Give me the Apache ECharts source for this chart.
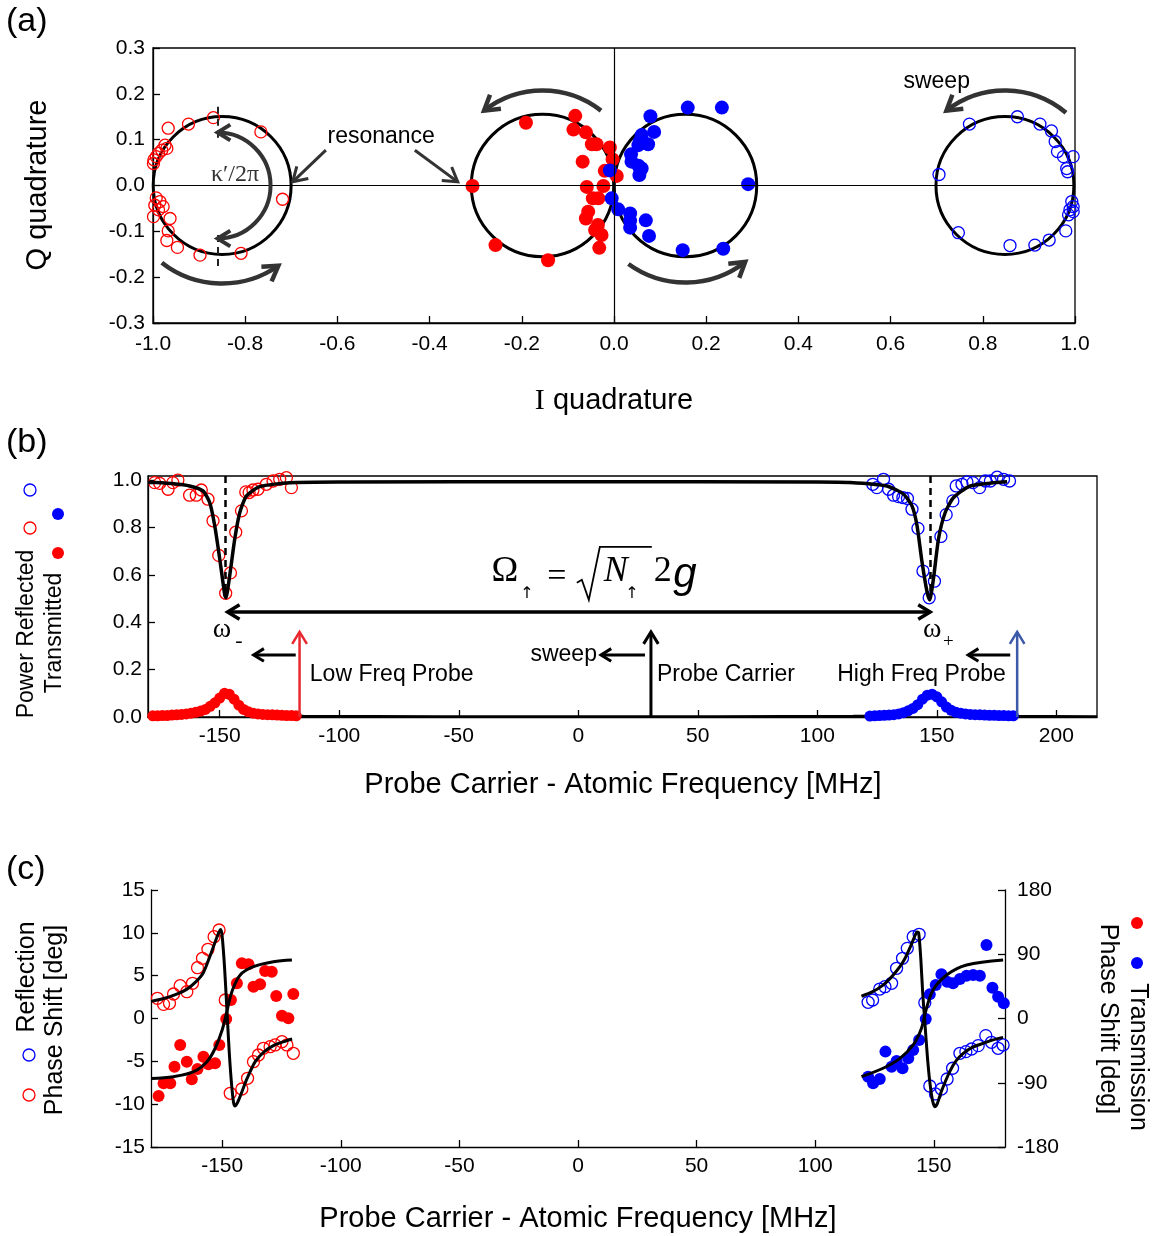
<!DOCTYPE html>
<html><head><meta charset="utf-8">
<script src="https://cdn.jsdelivr.net/npm/echarts@6/dist/echarts.min.js"></script>
<style>html,body{margin:0;padding:0;background:#fff}#c{width:1154px;height:1236px}</style>
</head><body><div id="c"></div>
<script>
// ================= DATA =================
// Panel (a): IQ plane
const circlesA = [[-0.85,0,0.15],[-0.155,0,0.155],[0.155,0,0.155],[0.848,0,0.15]]; // [centerI, centerQ, radius]
const redOpenA = [[-0.869,0.148],[-0.923,0.134],[-0.967,0.125],[-0.766,0.117],[-0.974,0.088],[-0.970,0.081],[-0.981,0.077],[-0.988,0.070],[-0.993,0.063],[-0.998,0.056],[-0.999,0.048],[-0.719,-0.030],[-0.993,-0.027],[-0.985,-0.035],[-0.996,-0.043],[-0.978,-0.046],[-0.988,-0.053],[-0.999,-0.068],[-0.963,-0.072],[-0.967,-0.099],[-0.970,-0.120],[-0.947,-0.135],[-0.898,-0.152],[-0.809,-0.148]];
const redFilledA = [[-0.191,0.137],[-0.084,0.152],[-0.088,0.122],[-0.061,0.116],[-0.048,0.090],[-0.038,0.090],[-0.009,0.083],[-0.068,0.052],[-0.003,0.057],[-0.020,0.032],[0.006,0.021],[-0.307,-0.001],[-0.059,-0.003],[-0.023,-0.001],[-0.046,-0.028],[-0.034,-0.028],[-0.056,-0.057],[-0.061,-0.072],[-0.035,-0.086],[-0.041,-0.097],[-0.027,-0.108],[-0.032,-0.136],[-0.257,-0.130],[-0.143,-0.163]];
const blueFilledA = [[0.160,0.170],[0.234,0.170],[0.079,0.151],[0.087,0.117],[0.060,0.110],[0.056,0.096],[0.074,0.090],[0.053,0.088],[0.037,0.068],[0.038,0.052],[0.053,0.043],[0.060,0.037],[0.055,0.023],[-0.009,0.033],[0.291,0.003],[-0.005,-0.028],[0.009,-0.052],[0.035,-0.061],[0.035,-0.077],[0.035,-0.092],[0.069,-0.076],[0.076,-0.110],[0.149,-0.141],[0.237,-0.138]];
const blueOpenA = [[0.771,0.134],[0.875,0.150],[0.924,0.134],[0.949,0.119],[0.957,0.096],[0.962,0.074],[0.996,0.063],[0.975,0.063],[0.982,0.037],[0.984,0.030],[0.705,0.024],[0.993,-0.035],[0.996,-0.046],[0.989,-0.053],[0.986,-0.064],[0.996,-0.057],[0.980,-0.099],[0.747,-0.103],[0.944,-0.119],[0.913,-0.130],[0.859,-0.131]];

// Panel (b): power vs frequency
const fitReflB = [[-180,0.99],[-177,0.99],[-170,0.985],[-162.6,0.975],[-157,0.954],[-154.2,0.905],[-152.1,0.808],[-150,0.668],[-147.9,0.515],[-147.4,0.503],[-145.8,0.598],[-143.7,0.752],[-141.6,0.863],[-138.8,0.933],[-133.3,0.972],[-120.7,0.989],[-100,0.992],[0,0.993],[100,0.992],[113.7,0.99],[129.1,0.975],[136.1,0.94],[139.6,0.891],[141.7,0.808],[143.8,0.654],[145.9,0.528],[147,0.494],[148.6,0.585],[150.7,0.752],[153.5,0.863],[157,0.926],[164,0.975],[179.4,0.993]];
const fitTransB = [[-180,0.004],[-165,0.01],[-155,0.03],[-150,0.07],[-148,0.09],[-145,0.07],[-140,0.03],[-130,0.01],[-115,0.004],[0,0.002],[115,0.004],[130,0.01],[140,0.03],[145,0.07],[147,0.09],[150,0.07],[155,0.03],[165,0.01],[180,0.004],[217,0.002]];
const redOpenB = [[-177.2,0.989],[-175.1,0.986],[-171.6,0.961],[-167.5,1.0],[-169.6,0.989],[-162.6,0.936],[-157.7,0.958],[-159.8,0.936],[-154.9,0.919],[-152.8,0.828],[-150.4,0.682],[-147.5,0.522],[-145.5,0.608],[-143.3,0.78],[-140.9,0.87],[-139.1,0.95],[-137.7,0.947],[-136.1,0.958],[-134.0,0.961],[-130.5,0.982],[-127.7,0.996],[-124.9,1.003],[-122.1,1.01],[-120.0,0.968]];
const blueOpenB = [[123.2,0.982],[124.9,0.968],[127.7,1.003],[129.8,0.961],[131.9,0.936],[134.0,0.93],[135.8,0.926],[137.7,0.922],[139.6,0.877],[142.1,0.796],[144.2,0.616],[146.8,0.503],[149.0,0.573],[151.7,0.762],[153.9,0.854],[156.7,0.912],[158.1,0.975],[160.5,0.982],[162.6,0.992],[165.1,0.989],[167.9,0.968],[170.3,0.996],[172.4,0.996],[175.2,1.012],[177.9,1.003],[180.4,0.996]];
const redTransB = [[-178,0.005],[-176,0.005],[-174,0.006],[-172,0.006],[-170,0.008],[-168,0.009],[-166,0.011],[-164,0.013],[-162,0.016],[-160,0.02],[-158,0.025],[-156,0.032],[-154,0.045],[-152,0.06],[-150,0.08],[-148,0.1],[-146,0.096],[-144,0.075],[-142,0.05],[-140,0.032],[-138,0.022],[-136,0.016],[-134,0.013],[-132,0.011],[-130,0.01],[-128,0.009],[-126,0.008],[-124,0.007],[-122,0.006],[-120,0.006],[-118,0.005]];
const blueTransB = [[122,0.004],[124,0.005],[126,0.006],[128,0.007],[130,0.008],[132,0.01],[134,0.013],[136,0.018],[138,0.026],[140,0.036],[142,0.052],[144,0.075],[146,0.092],[148,0.096],[150,0.085],[152,0.064],[154,0.042],[156,0.028],[158,0.02],[160,0.016],[162,0.013],[164,0.011],[166,0.01],[168,0.009],[170,0.008],[172,0.007],[174,0.007],[176,0.006],[178,0.006],[180,0.005],[182,0.005]];

// Panel (c): phase shift (reflection in deg on left axis, transmission in deg on right axis)
const fitReflLeftC = [[-180,2.0],[-175,2.3],[-170,2.75],[-165,3.4],[-161,4.3],[-158,5.3],[-155.5,7.0],[-153,8.9],[-151.5,10.0],[-150.6,10.4],[-150,9.6],[-149,6],[-148,1.0],[-147,-4],[-146,-7.8],[-145.2,-9.8],[-144.6,-10.2],[-143.5,-9.8],[-142,-8.8],[-139.5,-7.0],[-136,-5.0],[-132,-3.8],[-128,-3.1],[-124,-2.7],[-120.5,-2.4]];
const fitReflRightC = [[119.5,2.6],[124,3.1],[128.6,3.9],[132,4.8],[135.7,6.05],[138,7.1],[140,8.3],[141.8,9.5],[142.9,10.1],[143.6,10.0],[144.5,7.0],[145.3,3.0],[146.2,-0.4],[147.3,-4.5],[148.3,-7.4],[149.4,-9.5],[150.4,-10.3],[151.5,-9.9],[153.2,-8.5],[156.7,-6.2],[159.5,-4.9],[162.3,-4.1],[166,-3.4],[170.8,-2.9],[175,-2.5],[179.2,-2.2]];
const fitTransLeftC = [[-180,-84],[-170.5,-81.5],[-162,-74.5],[-156.4,-60.5],[-153,-42],[-150,-16],[-148,10],[-145.9,37.6],[-142.4,61],[-136.8,72.6],[-128.4,79.6],[-120.6,82]];
const fitTransRightC = [[119.5,-81.5],[128.6,-69.7],[135.7,-55.8],[141.3,-37.1],[144.8,-13.8],[146.9,14.3],[149.7,40],[155.4,61],[163.8,74.9],[179.2,82]];
const redOpenC = [[-177.3,2.36],[-174.7,1.65],[-172.2,1.77],[-170.5,2.86],[-167.7,3.83],[-164.9,3.13],[-162.5,4.11],[-160.4,5.93],[-158.3,7.03],[-156.0,8.08],[-153.4,9.55],[-151.3,10.33],[-148.7,2.16],[-146.6,-8.73],[-141.7,-8.23],[-139.3,-6.98],[-136.8,-5.04],[-134.7,-4.26],[-132.6,-3.48],[-129.8,-3.29],[-127.7,-3.09],[-124.8,-2.71],[-122.7,-3.09],[-120.0,-4.06]];
const blueOpenC = [[122.3,1.89],[124.2,2.16],[127.2,3.44],[129.4,3.71],[132.2,4.11],[134.3,5.86],[136.8,7.03],[138.8,8.19],[141.3,9.55],[143.8,9.83],[146.2,1.84],[148.3,-7.88],[150.7,-8.81],[153.2,-8.23],[155.6,-7.06],[157.9,-5.81],[161.0,-4.06],[163.5,-3.87],[165.9,-3.56],[168.7,-3.17],[171.9,-2.0],[174.3,-2.78],[177.1,-3.48],[179.2,-3.09]];
const redFilledC = [[-176.8,-108.6],[-174.7,-90.8],[-171.9,-90.8],[-170.1,-67.6],[-167.7,-37.1],[-164.9,-60.5],[-162.8,-85.2],[-160.4,-70.7],[-157.9,-53.5],[-155.8,-64.2],[-153.0,-62.8],[-151.2,-37.1],[-148.3,-0.7],[-146.3,25.9],[-143.8,49.3],[-141.7,77.3],[-138.9,76.0],[-136.8,44.5],[-134.0,47.9],[-131.9,66.5],[-129.1,65.5],[-127.2,31.6],[-124.8,4.0],[-122.1,0.2],[-120.0,34.3]];
const blueFilledC = [[122.3,-81.5],[124.4,-90.8],[127.2,-84.7],[129.6,-46.4],[132.2,-67.6],[134.3,-59.5],[136.8,-69.7],[139.2,-55.8],[141.3,-44.2],[143.8,-30.1],[146.6,-0.7],[148.3,33.8],[150.8,46.9],[153.2,61.9],[155.6,51.6],[158.1,49.3],[161.0,55.3],[163.8,60.0],[166.6,61.0],[169.4,60.0],[172.2,103.0],[174.7,43.2],[177.1,30.5],[179.5,21.2]];

// Tick labels
const ticksBX = [-150,-100,-50,0,50,100,150,200];
const ticksBY = [0,0.2,0.4,0.6,0.8,1.0];
const ticksCX = [-150,-100,-50,0,50,100,150];

// ================= CHART =================
const chart = echarts.init(document.getElementById('c'), null, {renderer:'canvas'});
const SANS = '"Liberation Sans", Arial, Helvetica, sans-serif';
const SERIF = '"Liberation Serif", "Times New Roman", serif';
const RED = '#ff0000', BLUE = '#0000ff', ARC = '#333333';

function axis(o){
  const a = {type:'value', gridIndex:o.grid, min:o.min, max:o.max,
    axisLine:{show:true,onZero:false,lineStyle:{color:'#000',width:1.3}},
    axisTick:{show:true,inside:true,length:7,lineStyle:{color:'#000',width:1.3}},
    axisLabel:{show:true,color:'#000',fontSize:21,fontFamily:SANS,margin:o.margin},
    splitLine:{show:false}};
  if(o.position) a.position=o.position;
  if(o.fmt) a.axisLabel.formatter=o.fmt;
  if(o.interval!=null) a.interval=o.interval;
  if(o.custom){ a.axisLabel.customValues=o.custom; a.axisTick.customValues=o.custom; }
  return a;
}
function sc(data, xi, yi, filled, color, size){
  return {type:'scatter', data, xAxisIndex:xi, yAxisIndex:yi, symbol:'circle', symbolSize:size,
    itemStyle: filled ? {color:color, opacity:1} : {color:'rgba(0,0,0,0)', borderColor:color, borderWidth:1.3, opacity:1},
    emphasis:{disabled:true}, silent:true, animation:false, z:3};
}
function ln(data, xi, yi, w, smooth){
  return {type:'line', data, xAxisIndex:xi, yAxisIndex:yi, showSymbol:false, symbol:'none',
    lineStyle:{color:'#000', width:w}, smooth:smooth, silent:true, animation:false, z:4};
}
const f1 = v => v.toFixed(1);

const option = {
  backgroundColor:'#fff',
  animation:false,
  grid:[
    {left:153, top:48, width:922, height:275, show:true, borderColor:'#000', borderWidth:1.3, backgroundColor:'transparent'},
    {left:148, top:476, width:949, height:241, show:true, borderColor:'#000', borderWidth:1.3, backgroundColor:'transparent'},
    {left:151, top:890, width:854, height:257}
  ],
  xAxis:[
    axis({grid:0, min:-1, max:1, interval:0.2, fmt:f1, margin:11}),
    axis({grid:1, min:-180, max:217, custom:ticksBX, margin:9}),
    axis({grid:2, min:-180, max:180, custom:ticksCX, margin:9})
  ],
  yAxis:[
    axis({grid:0, min:-0.3, max:0.3, interval:0.1, fmt:f1, margin:8}),
    axis({grid:1, min:0, max:1.017, custom:ticksBY, fmt:f1, margin:6}),
    axis({grid:2, min:-15, max:15, interval:5, margin:6}),
    axis({grid:2, min:-180, max:180, interval:90, position:'right', margin:12})
  ],
  series:[
    // (a)
    {type:'custom', xAxisIndex:0, yAxisIndex:0, data:circlesA, silent:true, animation:false, z:2,
      renderItem:function(params, api){
        const c = api.coord([api.value(0), api.value(1)]);
        const s = api.size([api.value(2), api.value(2)]);
        return {type:'circle', shape:{cx:c[0], cy:c[1], r:(s[0]+s[1])/2}, style:{fill:'none', stroke:'#000', lineWidth:3}};
      }},
    Object.assign(sc(redOpenA,0,0,false,RED,12), {markLine:{silent:true, symbol:['none','none'], label:{show:false}, animation:false,
      lineStyle:{color:'#000', width:1.2, type:'solid'},
      data:[{xAxis:0},{yAxis:0},
        [{coord:[-0.86,0.172], lineStyle:{type:[7,5], width:2, color:'#222'}},{coord:[-0.86,0.104], lineStyle:{type:[7,5], width:2, color:'#222'}}],
        [{coord:[-0.86,-0.108], lineStyle:{type:[7,5], width:2, color:'#222'}},{coord:[-0.86,-0.18], lineStyle:{type:[7,5], width:2, color:'#222'}}]
      ]}}),
    sc(redFilledA,0,0,true,RED,14),
    sc(blueFilledA,0,0,true,BLUE,14),
    sc(blueOpenA,0,0,false,BLUE,12),
    // (b)
    Object.assign(ln(fitReflB,1,1,3.5,0.2), {markLine:{silent:true, symbol:['none','none'], label:{show:false}, animation:false,
      lineStyle:{color:'#000', width:2.5, type:[7,5]},
      data:[[{coord:[-147.5,1.017]},{coord:[-147.5,0.51]}],[{coord:[147.2,1.017]},{coord:[147.2,0.5]}]]}}),
    Object.assign(ln(fitTransB,1,1,2.5,0.3), {z:2}),
    sc(redOpenB,1,1,false,RED,12),
    sc(blueOpenB,1,1,false,BLUE,12),
    sc(redTransB,1,1,true,RED,11),
    sc(blueTransB,1,1,true,BLUE,11),
    // (c)
    sc(redOpenC,2,2,false,RED,12),
    sc(blueOpenC,2,2,false,BLUE,12),
    sc(redFilledC,2,3,true,RED,12),
    sc(blueFilledC,2,3,true,BLUE,12),
    ln(fitReflLeftC,2,2,3,0.25),
    ln(fitReflRightC,2,2,3,0.25),
    ln(fitTransLeftC,2,3,3,0.35),
    ln(fitTransRightC,2,3,3,0.35)
  ]
};
chart.setOption(option);

// ================= ANNOTATIONS =================
const G = [];
function P(g, pt){ return chart.convertToPixel({gridIndex:g}, pt); }
function T(text, x, y, font, o){
  o = o || {};
  G.push({type:'text', x:x, y:y, rotation:o.rot||0, z:100, silent:true,
    style:{text:text, font:font, fill:o.fill||'#000', align:o.align||'center', verticalAlign:o.va||'middle',
      textAlign:o.align||'center', textVerticalAlign:o.va||'middle'}});
}
function chev(tip, ang, size, color, lw){
  const h = 0.55;
  G.push({type:'polyline', z:100, silent:true, shape:{points:[
    [tip[0]-size*Math.cos(ang-h), tip[1]-size*Math.sin(ang-h)], [tip[0], tip[1]],
    [tip[0]-size*Math.cos(ang+h), tip[1]-size*Math.sin(ang+h)]]},
    style:{stroke:color, lineWidth:lw, fill:'none', lineJoin:'miter', lineCap:'butt'}});
}
function arrow(a, b, color, lw, size, both){
  G.push({type:'line', z:100, silent:true, shape:{x1:a[0],y1:a[1],x2:b[0],y2:b[1]}, style:{stroke:color, lineWidth:lw}});
  chev(b, Math.atan2(b[1]-a[1], b[0]-a[0]), size, color, lw);
  if(both) chev(a, Math.atan2(a[1]-b[1], a[0]-b[0]), size, color, lw);
}
function arcArrow(c, r, a0d, a1d, heads, color, lw, size){
  const a0 = a0d*Math.PI/180, a1 = a1d*Math.PI/180;
  G.push({type:'arc', z:100, silent:true, shape:{cx:c[0], cy:c[1], r:r, startAngle:a0, endAngle:a1, clockwise:true},
    style:{stroke:color, lineWidth:lw, fill:'none'}});
  if(heads.indexOf('s')>=0){ chev([c[0]+r*Math.cos(a0), c[1]+r*Math.sin(a0)], Math.atan2(-Math.cos(a0), Math.sin(a0)), size, color, lw); }
  if(heads.indexOf('e')>=0){ chev([c[0]+r*Math.cos(a1), c[1]+r*Math.sin(a1)], Math.atan2(Math.cos(a1), -Math.sin(a1)), size, color, lw); }
}
function dot(x, y, filled, color){
  G.push({type:'circle', z:100, silent:true, shape:{cx:x, cy:y, r:6},
    style: filled ? {fill:color} : {fill:'none', stroke:color, lineWidth:1.3}});
}

// --- panel (a)
const cc = circlesA.map(c => P(0, [c[0], c[1]]));
arcArrow(cc[0], 98, 55, 128, 's', ARC, 4.5, 17);
arcArrow(cc[1], 95, -128, -52, 's', ARC, 4.5, 17);
arcArrow(cc[2], 97, 52, 126, 's', ARC, 4.5, 17);
arcArrow(cc[3], 95, -128, -50, 's', ARC, 4.5, 17);
arcArrow(P(0, [-0.86, 0]), 53, -90, 90, 'se', ARC, 4, 15);
arrow(P(0,[-0.625,0.077]), P(0,[-0.697,0.008]), ARC, 3, 16, false);
arrow(P(0,[-0.432,0.077]), P(0,[-0.339,0.008]), ARC, 3, 16, false);
let p;
p = P(0,[-0.505,0.106]); T('resonance', p[0], p[1], '23px '+SANS);
p = P(0,[0.70,0.226]); T('sweep', p[0], p[1], '23px '+SANS);
p = P(0,[-0.822,0.023]); T('κ′/2π', p[0], p[1], '24px '+SERIF, {fill:'#333'});

// --- panel (b)
arrow(P(1,[-116.6,0]), P(1,[-116.6,0.359]), '#e8282e', 2.5, 14, false);
arrow(P(1,[30.4,0]), P(1,[30.4,0.359]), '#000', 3, 14, false);
arrow(P(1,[183.6,0]), P(1,[183.6,0.359]), '#3c5aa8', 2.5, 14, false);
arrow(P(1,[-118.2,0.262]), P(1,[-135.8,0.262]), '#000', 3, 12, false);
arrow(P(1,[27.9,0.262]), P(1,[9.5,0.262]), '#000', 3, 12, false);
arrow(P(1,[180.7,0.262]), P(1,[163.1,0.262]), '#000', 3, 12, false);
arrow(P(1,[-146.7,0.443]), P(1,[147.2,0.443]), '#000', 3.5, 14, true);
p = P(1,[-112.3,0.177]); T('Low Freq Probe', p[0], p[1], '23px '+SANS, {align:'left'});
p = P(1,[7.8,0.262]); T('sweep', p[0], p[1], '23px '+SANS, {align:'right'});
p = P(1,[32.9,0.177]); T('Probe Carrier', p[0], p[1], '23px '+SANS, {align:'left'});
p = P(1,[108.3,0.177]); T('High Freq Probe', p[0], p[1], '23px '+SANS, {align:'left'});
p = P(1,[-149.1,0.354]); T('ω', p[0], p[1]-3, '28px '+SERIF); T('-', p[0]+17, p[1]+8, '22px '+SERIF);
p = P(1,[148.1,0.354]); T('ω', p[0], p[1]-3, '28px '+SERIF); T('+', p[0]+16, p[1]+9, '19px '+SERIF);
// formula Ω↑ = √N↑ 2g
const A = P(1,[-37,0.6]);
T('Ω', A[0]+15, A[1]-3, '36px '+SERIF);
T('↑', A[0]+37, A[1]+19, '16px "DejaVu Sans"');
T('=', A[0]+67, A[1]+2, '34px '+SERIF);
G.push({type:'polyline', z:100, silent:true, shape:{points:[[A[0]+87,A[1]+8],[A[0]+92,A[1]+5],[A[0]+99,A[1]+25],[A[0]+110,A[1]-28],[A[0]+162,A[1]-28]]}, style:{stroke:'#000', lineWidth:1.8, fill:'none'}});
T('N', A[0]+126, A[1]-3, 'italic 36px '+SERIF);
T('↑', A[0]+142, A[1]+19, '16px "DejaVu Sans"');
T('2', A[0]+173, A[1]-3, '36px '+SERIF);
T('g', A[0]+195, A[1], 'italic 42px '+SANS);

// --- axis titles & side labels
T('(a)', 6, 22, '34px '+SANS, {align:'left'});
T('(b)', 6, 443, '34px '+SANS, {align:'left'});
T('(c)', 6, 870, '34px '+SANS, {align:'left'});
T('Q quadrature', 38, 185, '29px '+SANS, {rot:Math.PI/2});
G.push({type:'text', x:614, y:401, z:100, silent:true, style:{text:'{s|I} quadrature', font:'29px '+SANS, fill:'#000', align:'center', verticalAlign:'middle', textAlign:'center', textVerticalAlign:'middle', rich:{s:{fontFamily:'"Liberation Serif", serif', fontSize:30}}}});
T('Probe Carrier - Atomic Frequency [MHz]', 623, 785, '29px '+SANS);
T('Probe Carrier - Atomic Frequency [MHz]', 578, 1219, '29px '+SANS);
// (b) left
T('Power Reflected', 27, 634, '23px '+SANS, {rot:Math.PI/2});
T('Transmitted', 55, 633, '23px '+SANS, {rot:Math.PI/2});
dot(30, 490, false, BLUE); dot(30, 528, false, RED); dot(58, 514, true, BLUE); dot(58, 553, true, RED);
// (c) left
T('Reflection', 27, 977, '25px '+SANS, {rot:Math.PI/2});
T('Phase Shift [deg]', 55, 1020, '25px '+SANS, {rot:Math.PI/2});
dot(29, 1055, false, BLUE); dot(29, 1095, false, RED);
// (c) right
T('Phase Shift [deg]', 1108, 1019, '25px '+SANS, {rot:-Math.PI/2});
T('Transmission', 1138, 1057, '25px '+SANS, {rot:-Math.PI/2});
dot(1137, 923, true, RED); dot(1137, 963, true, BLUE);

chart.setOption({graphic:{elements:G}});
</script></body></html>
